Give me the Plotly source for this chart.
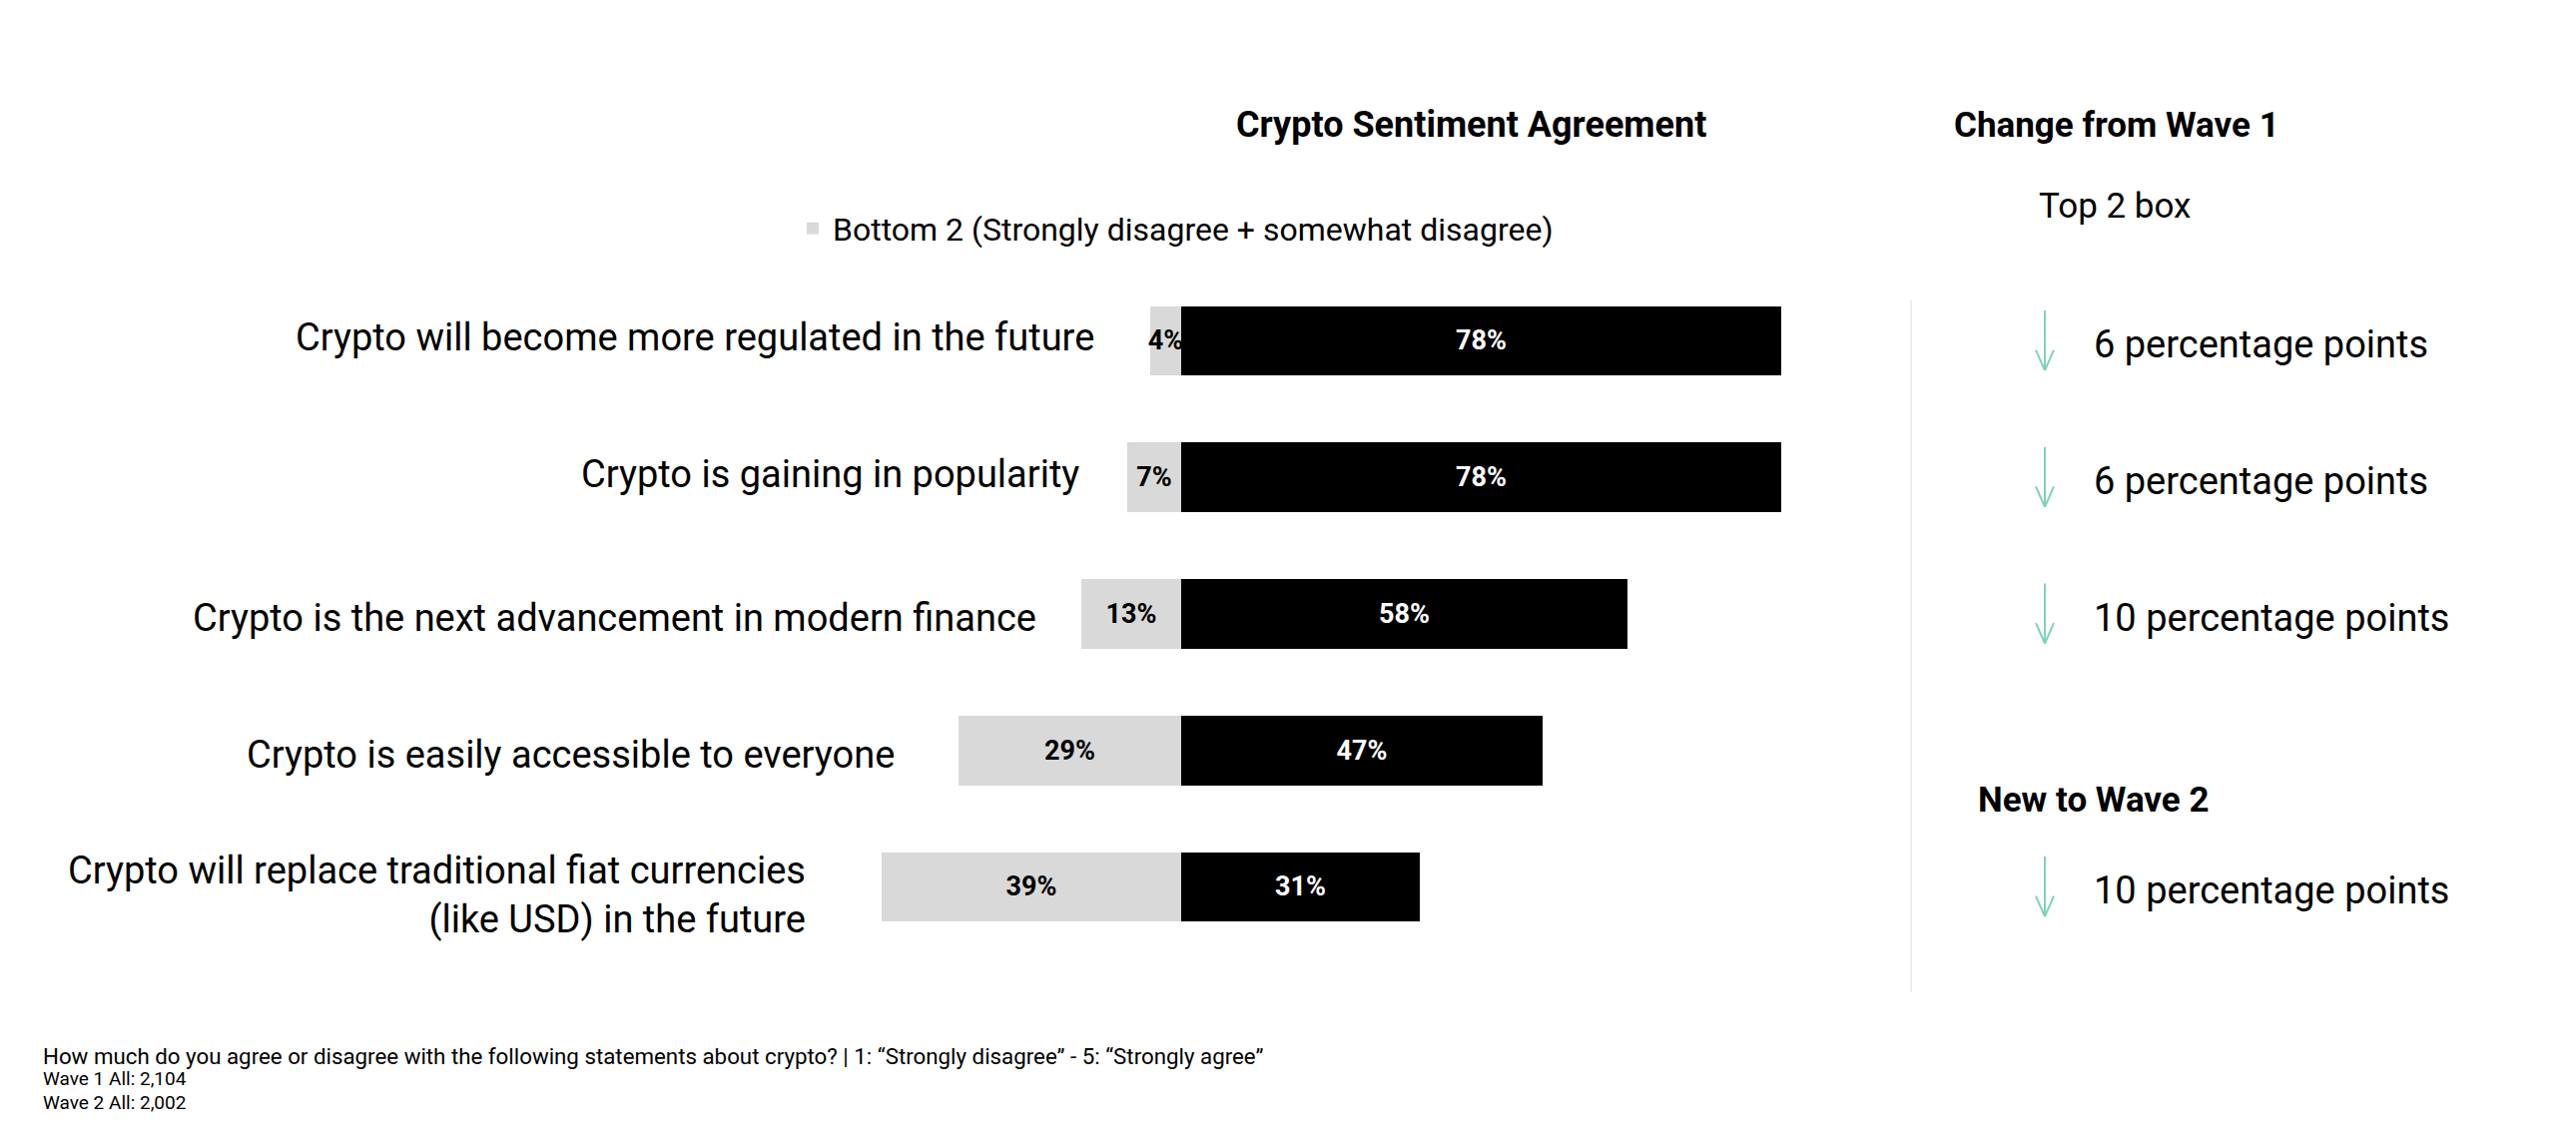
import plotly.graph_objects as go

statements = [
    "Crypto will become more regulated in the future",
    "Crypto is gaining in popularity",
    "Crypto is the next advancement in modern finance",
    "Crypto is easily accessible to everyone",
    "Crypto will replace traditional fiat currencies<br>(like USD) in the future",
]
bottom2 = [4, 7, 13, 29, 39]
top2 = [78, 78, 58, 47, 31]

change_rows = [0, 1, 2, 4]
change_pts = [6, 6, 10, 10]

# offsets (px) of each statement from the start of its grey bar
label_gap = [54, 46, 43, 62, 74]
label_dy = [3, 3, -4, -5, -8]

# page is 2580x1146, the html body adds an 8px margin
W, H = 2564, 1130
FONT = "Roboto"
ARROW = "#7fd3b5"

rows = list(range(len(statements)))


def px(x):
    return (x - 8) / W


def py(y):
    return 1 - (y - 8) / H


fig = go.Figure()

fig.add_trace(go.Bar(
    y=rows, x=[-v for v in bottom2], orientation="h",
    name="Bottom 2 (Strongly disagree + somewhat disagree)",
    marker=dict(color="#d9d9d9", line=dict(width=0)),
    text=[f"<b>{v}%</b>" for v in bottom2],
    textposition="inside", insidetextanchor="middle", textangle=0,
    textfont=dict(family=FONT, size=27, color="black"),
    width=0.51, hoverinfo="skip",
))
fig.add_trace(go.Bar(
    y=rows, x=top2, orientation="h", name="Top 2",
    marker=dict(color="black", line=dict(width=0)),
    text=[f"<b>{v}%</b>" for v in top2],
    textposition="inside", insidetextanchor="middle", textangle=0,
    textfont=dict(family=FONT, size=27, color="white"),
    width=0.51, showlegend=False, hoverinfo="skip",
))

# statement labels, right-aligned next to each grey bar
for r, s in enumerate(statements):
    fig.add_annotation(x=-bottom2[r], y=r, xref="x", yref="y", text=s,
                       xanchor="right", xshift=-label_gap[r], yshift=label_dy[r],
                       showarrow=False, align="right",
                       font=dict(family=FONT, size=38, color="black"))

# change column
for r, p in zip(change_rows, change_pts):
    xa = px(2048)
    y0, y1 = r - 0.22, r + 0.22
    fig.add_shape(type="line", xref="paper", yref="y", x0=xa, x1=xa, y0=y0, y1=y1,
                  line=dict(color=ARROW, width=2))
    for d in (-1, 1):
        fig.add_shape(type="line", xref="paper", yref="y", x0=xa + d * 9 / W, x1=xa,
                      y0=y1 - 0.15, y1=y1, line=dict(color=ARROW, width=2))
    fig.add_annotation(x=px(2095), y=r, xref="paper", yref="y", yshift=-4,
                       text=f"{p} percentage points", xanchor="left", showarrow=False,
                       font=dict(family=FONT, size=38, color="black"))

fig.add_shape(type="line", xref="paper", yref="paper", x0=px(1914), x1=px(1914),
              y0=py(301), y1=py(994), line=dict(color="#e6e6e6", width=1.5))

heads = [
    ("<b>Crypto Sentiment Agreement</b>", 1473, 125, "center", 36),
    ("<b>Change from Wave 1</b>", 1955, 125, "left", 35),
    ("Top 2 box", 2040, 207, "left", 35),
    ("<b>New to Wave 2</b>", 1979, 801, "left", 35),
]
for t, x, y, anc, sz in heads:
    fig.add_annotation(x=px(x), y=py(y), xref="paper", yref="paper", text=t,
                       xanchor=anc, yanchor="middle", showarrow=False,
                       font=dict(family=FONT, size=sz, color="black"))

notes = [
    ("How much do you agree or disagree with the following statements about crypto? | 1: \u201cStrongly disagree\u201d - 5: \u201cStrongly agree\u201d", 1058, 22.3),
    ("Wave 1 All: 2,104", 1080, 19),
    ("Wave 2 All: 2,002", 1104, 19),
]
for t, y, sz in notes:
    fig.add_annotation(x=px(41), y=py(y), xref="paper", yref="paper", text=t,
                       xanchor="left", yanchor="middle", showarrow=False,
                       font=dict(family=FONT, size=sz, color="black"))

fig.update_layout(
    width=W, height=H,
    margin=dict(l=0, r=0, t=0, b=0),
    paper_bgcolor="white", plot_bgcolor="white",
    barmode="relative", bargap=0,
    uniformtext=dict(minsize=27, mode="show"),
    showlegend=True,
    legend=dict(x=px(794), y=py(229), xanchor="left", yanchor="middle",
                font=dict(family=FONT, size=32, color="black"),
                bgcolor="rgba(0,0,0,0)", itemwidth=30),
    xaxis=dict(domain=[px(798), px(1876)], range=[-50, 90], visible=False),
    yaxis=dict(domain=[py(956.4), py(272.6)], range=[4.5, -0.5], visible=False),
)

fig.write_html("out.html")
